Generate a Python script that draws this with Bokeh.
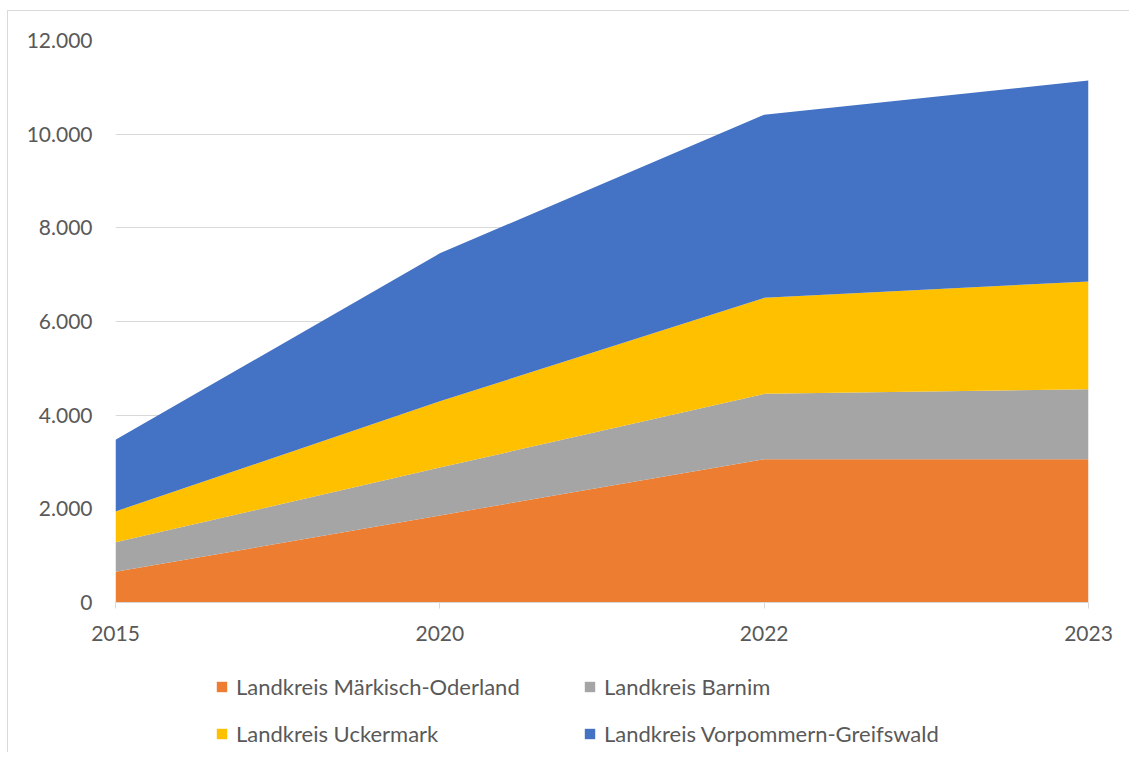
from bokeh.plotting import figure
from bokeh.models import ColumnDataSource, Legend, LegendItem, FixedTicker, Range1d
from bokeh.layouts import column
from bokeh.embed import file_html
from bokeh.resources import INLINE

# ---- data ----
years = ["2015", "2020", "2022", "2023"]
maerkisch_oderland = [655, 1860, 3060, 3060]
barnim = [630, 1020, 1395, 1495]
uckermark = [660, 1415, 2050, 2300]
vorpommern_greifswald = [1530, 3160, 3910, 4290]

series_names = [
    "Landkreis Märkisch-Oderland",
    "Landkreis Barnim",
    "Landkreis Uckermark",
    "Landkreis Vorpommern-Greifswald",
]
colors = ["#ED7D31", "#A5A5A5", "#FFC000", "#4472C4"]

y_ticks = [0, 2000, 4000, 6000, 8000, 10000, 12000]
y_tick_labels = ["0", "2.000", "4.000", "6.000", "8.000", "10.000", "12.000"]

# ---- source ----
x_idx = list(range(len(years)))
keys = ["mo", "ba", "uc", "vg"]
source = ColumnDataSource(dict(
    x=x_idx,
    mo=maerkisch_oderland,
    ba=barnim,
    uc=uckermark,
    vg=vorpommern_greifswald,
))

FONT = "Lato"
TEXT_COLOR = "#595959"
GRID_COLOR = "#d9d9d9"
BORDER = "1px solid #d9d9d9"

p = figure(
    width=1121, height=645,
    x_range=Range1d(0, len(years) - 1),
    y_range=Range1d(0, 12000),
    min_border_left=107, min_border_right=41,
    min_border_top=29, min_border_bottom=54,
    output_backend="svg", toolbar_location=None,
)
p.outline_line_color = None

renderers = p.varea_stack(stackers=keys, x="x", color=colors, source=source)

# axes
p.xaxis.ticker = FixedTicker(ticks=x_idx)
p.xaxis.major_label_overrides = {i: y for i, y in zip(x_idx, years)}
p.xaxis.axis_line_color = GRID_COLOR
p.xaxis.major_tick_line_color = GRID_COLOR
p.xaxis.major_tick_out = 6
p.xaxis.major_tick_in = 0
p.xaxis.minor_tick_line_color = None
p.xaxis.major_label_standoff = 17
p.xaxis.major_label_text_font = FONT
p.xaxis.major_label_text_font_size = "21px"
p.xaxis.major_label_text_color = TEXT_COLOR

p.yaxis.ticker = FixedTicker(ticks=y_ticks)
p.yaxis.major_label_overrides = {t: l for t, l in zip(y_ticks, y_tick_labels)}
p.yaxis.axis_line_color = None
p.yaxis.major_tick_line_color = None
p.yaxis.minor_tick_line_color = None
p.yaxis.major_tick_out = 0
p.yaxis.major_tick_in = 0
p.yaxis.major_label_standoff = 23
p.yaxis.major_label_text_font = FONT
p.yaxis.major_label_text_font_size = "21px"
p.yaxis.major_label_text_color = TEXT_COLOR

p.xgrid.visible = False
p.ygrid.grid_line_color = GRID_COLOR
p.ygrid.grid_line_width = 1

# ---- legend strip (separate figure so it is not clipped) ----
lg = figure(
    width=1121, height=96,
    x_range=Range1d(0, 1), y_range=Range1d(0, 1),
    x_axis_type=None, y_axis_type=None,
    min_border_left=0, min_border_right=0, min_border_top=0, min_border_bottom=0,
    output_backend="svg", toolbar_location=None,
)
lg.outline_line_color = None
lg.grid.visible = False
proxies = [lg.varea(x=[0, 0], y1=[0, 0], y2=[0, 0], color=c) for c in colors]

def make_legend(idxs, loc):
    return Legend(
        items=[LegendItem(label=series_names[i], renderers=[proxies[i]]) for i in idxs],
        location=loc,
        orientation="vertical",
        glyph_width=13, glyph_height=13,
        label_standoff=8, spacing=20, label_height=24,
        padding=0, margin=0,
        border_line_color=None, background_fill_alpha=0,
        label_text_font=FONT, label_text_font_size="22px",
        label_text_color=TEXT_COLOR,
    )

lg.add_layout(make_legend([0, 2], (100, 5)))
lg.add_layout(make_legend([1, 3], (468, 5)))

layout = column(p, lg, spacing=0)
layout.styles = {"margin-left": "7px", "margin-top": "10px",
                 "border-top": BORDER, "border-left": BORDER}
open("out.html", "w").write(file_html(layout, INLINE))
